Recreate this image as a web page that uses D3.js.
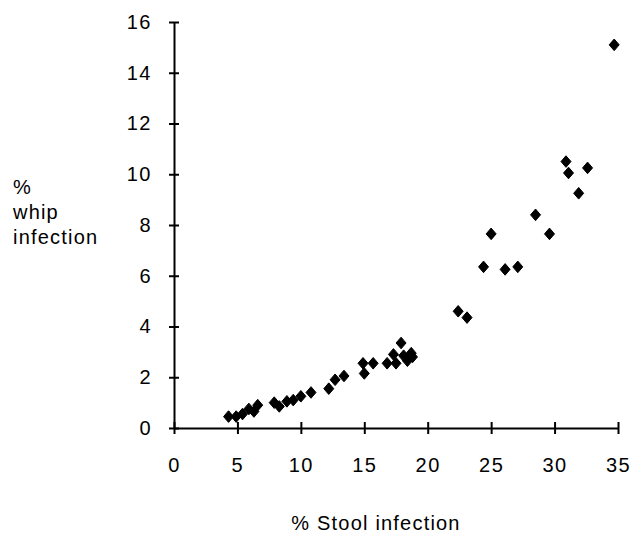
<!DOCTYPE html>
<html>
<head>
<meta charset="utf-8">
<script src="https://cdn.jsdelivr.net/npm/d3@7"></script>
<style>
  html, body { margin: 0; padding: 0; background: #fff; }
  text { font-family: "Liberation Sans", Arial, sans-serif; fill: #000; }
</style>
</head>
<body>
<svg id="chart" width="632" height="534"></svg>
<script>
// Data
const stoolInfection = [4.3, 4.9, 5.4, 5.9, 6.3, 6.6, 7.9, 8.3, 8.9, 9.4, 10.0, 10.8,
  12.2, 12.7, 13.4, 14.9, 15.0, 15.7, 16.8, 17.3, 17.9, 17.5, 18.1, 18.4, 18.7, 18.8,
  22.4, 23.1, 24.4, 25.0, 26.1, 27.1, 28.5, 29.6, 30.9, 31.1, 31.9, 32.6, 34.7];
const whipInfection = [0.45, 0.45, 0.55, 0.75, 0.65, 0.9, 1.0, 0.85, 1.05, 1.1, 1.25, 1.4,
  1.55, 1.9, 2.05, 2.55, 2.15, 2.55, 2.55, 2.9, 3.35, 2.55, 2.85, 2.65, 2.95, 2.8,
  4.6, 4.35, 6.35, 7.65, 6.25, 6.35, 8.4, 7.65, 10.5, 10.05, 9.25, 10.25, 15.1];
const xTicks = [0, 5, 10, 15, 20, 25, 30, 35];
const yTicks = [0, 2, 4, 6, 8, 10, 12, 14, 16];
const xTitle = "% Stool infection";
const yTitleLines = ["%", "whip", "infection"];

const svg = d3.select("#chart");
const x = d3.scaleLinear().domain([0, 35]).range([174, 618]);
const y = d3.scaleLinear().domain([0, 16]).range([428, 22]);

// X axis
const xAxis = d3.axisBottom(x).tickValues(xTicks).tickSize(0).tickPadding(30)
  .tickFormat(d3.format("d"));
const gx = svg.append("g").attr("transform", "translate(0,428)").call(xAxis);
gx.select(".domain").attr("stroke", "#000").attr("stroke-width", 2);
gx.selectAll(".tick text").attr("font-size", 20).attr("letter-spacing", 1.5)
  .attr("font-family", "Liberation Sans, Arial, sans-serif").attr("fill", "#000");
gx.selectAll(".tick").append("line").attr("y1", -6).attr("y2", 6)
  .attr("stroke", "#000").attr("stroke-width", 2);

// Y axis
const yAxis = d3.axisLeft(y).tickValues(yTicks).tickSize(0).tickPadding(22)
  .tickFormat(d3.format("d"));
const gy = svg.append("g").attr("transform", "translate(174,0)").call(yAxis);
gy.select(".domain").attr("stroke", "#000").attr("stroke-width", 2);
gy.selectAll(".tick text").attr("font-size", 20).attr("letter-spacing", 1.5)
  .attr("font-family", "Liberation Sans, Arial, sans-serif").attr("fill", "#000");
gy.selectAll(".tick").append("line").attr("x1", -5).attr("x2", 5)
  .attr("stroke", "#000").attr("stroke-width", 2);

// Points (diamonds)
const diamond = "M0,-5.8L5,0L0,5.8L-5,0Z";
svg.append("g").selectAll("path")
  .data(stoolInfection.map((v, i) => [v, whipInfection[i]]))
  .join("path")
  .attr("d", diamond)
  .attr("transform", d => `translate(${x(d[0])},${y(d[1])})`)
  .attr("fill", "#000")
  .attr("stroke", "#000")
  .attr("stroke-width", 1)
  .attr("stroke-linejoin", "round");

// Titles
svg.append("text").attr("x", 376).attr("y", 530).attr("text-anchor", "middle")
  .attr("font-size", 20).attr("letter-spacing", 1.2).text(xTitle);
svg.append("g").selectAll("text").data(yTitleLines).join("text")
  .attr("x", 13).attr("y", (d, i) => 194 + i * 25)
  .attr("font-size", 20).attr("letter-spacing", 1.2).text(d => d);
</script>
</body>
</html>
